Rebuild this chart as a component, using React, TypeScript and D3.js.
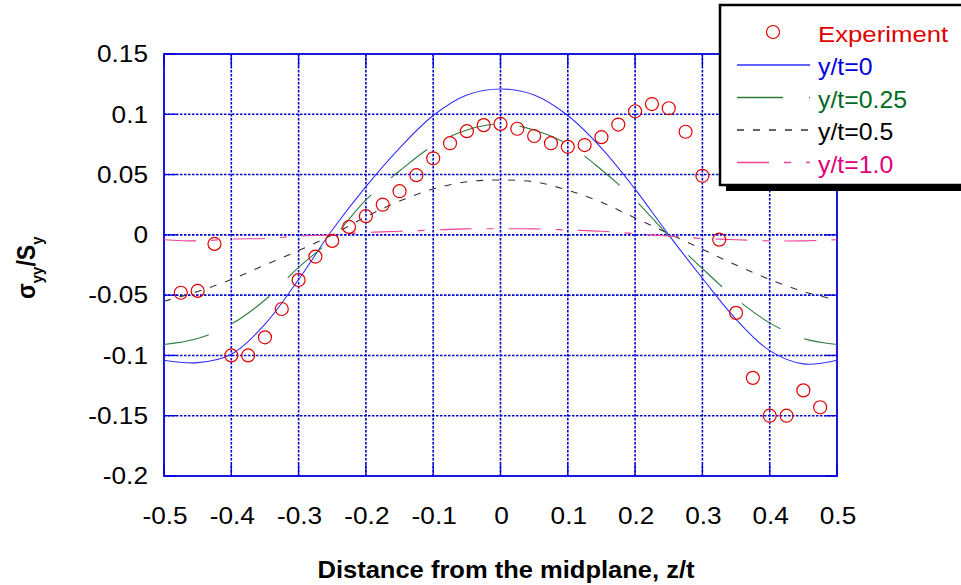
import React from "react";
import * as d3 from "d3";

const zGrid = [-0.5, -0.45, -0.4, -0.35, -0.3, -0.25, -0.2, -0.15, -0.1, -0.05, 0, 0.05, 0.1, 0.15, 0.2, 0.25, 0.3, 0.35, 0.4, 0.45, 0.5];
const yt0 = [-0.104, -0.106, -0.099, -0.074, -0.037, 0.004, 0.04, 0.072, 0.099, 0.116, 0.121, 0.116, 0.099, 0.072, 0.038, 0.0, -0.036, -0.07, -0.096, -0.107, -0.104];
const yt025 = [-0.091, -0.086, -0.074, -0.054, -0.027, -0.003, 0.029, 0.053, 0.074, 0.087, 0.092, 0.087, 0.075, 0.054, 0.029, -0.001, -0.028, -0.053, -0.073, -0.086, -0.091];
const yt05 = [-0.055, -0.047, -0.037, -0.025, -0.013, 0.0, 0.015, 0.028, 0.038, 0.044, 0.0455, 0.044, 0.037, 0.027, 0.014, 0.001, -0.012, -0.025, -0.037, -0.047, -0.054];
const yt10 = [-0.004, -0.005, -0.0035, -0.003, -0.001, 0.0, 0.002, 0.003, 0.004, 0.005, 0.005, 0.005, 0.004, 0.003, 0.001, -0.001, -0.003, -0.004, -0.005, -0.005, -0.004];

const expZ = [-0.475, -0.45, -0.425, -0.4, -0.375, -0.35, -0.325, -0.3, -0.275, -0.25, -0.225, -0.2, -0.175, -0.15, -0.125, -0.1, -0.075, -0.05, -0.025, 0, 0.025, 0.05, 0.075, 0.1, 0.125, 0.15, 0.175, 0.2, 0.225, 0.25, 0.275, 0.3, 0.325, 0.35, 0.375, 0.4, 0.425, 0.45, 0.475];
const expV = [-0.048, -0.0465, -0.0075, -0.1, -0.1, -0.085, -0.0615, -0.0375, -0.018, -0.005, 0.0066, 0.0155, 0.025, 0.0362, 0.0495, 0.0635, 0.076, 0.086, 0.091, 0.092, 0.088, 0.082, 0.076, 0.073, 0.0745, 0.081, 0.0915, 0.1025, 0.1085, 0.105, 0.0855, 0.049, -0.004, -0.0647, -0.1186, -0.15, -0.15, -0.129, -0.143];

const xTicks = [-0.5, -0.4, -0.3, -0.2, -0.1, 0, 0.1, 0.2, 0.3, 0.4, 0.5];
const xTickLabels = ["-0.5", "-0.4", "-0.3", "-0.2", "-0.1", "0", "0.1", "0.2", "0.3", "0.4", "0.5"];
const yTicks = [0.15, 0.1, 0.05, 0, -0.05, -0.1, -0.15, -0.2];
const yTickLabels = ["0.15", "0.1", "0.05", "0", "-0.05", "-0.1", "-0.15", "-0.2"];

const seriesNames = ["y/t=0", "y/t=0.25", "y/t=0.5", "y/t=1.0"];

const FONT = "'Liberation Sans', Arial, sans-serif";

function SText(props: any) {
  const { x, y, anchor = "start", sx = 1.14, size = 23, fill = "#000", weight = "normal", children } = props;
  return (
    <text
      transform={`translate(${x},${y}) scale(${sx},1)`}
      textAnchor={anchor}
      fontSize={size}
      fontFamily={FONT}
      fontWeight={weight}
      fill={fill}
    >
      {children}
    </text>
  );
}

export default function App() {
  const W = 961, H = 585;
  const x = d3.scaleLinear().domain([-0.5, 0.5]).range([164, 837]);
  const y = d3.scaleLinear().domain([-0.2, 0.15]).range([476, 54]);
  const [x0, x1] = x.range();
  const [y0, y1] = [y(0.15), y(-0.2)];

  const line = d3
    .line<[number, number]>()
    .x((d) => x(d[0]))
    .y((d) => y(d[1]))
    .curve(d3.curveCatmullRom.alpha(0.5));

  const series = [
    { name: seriesNames[0], vals: yt0, stroke: "#3030ff", dash: "none", text: "#0000e0" },
    { name: seriesNames[1], vals: yt025, stroke: "#2e7d3e", dash: "46,26", text: "#006a1e" },
    { name: seriesNames[2], vals: yt05, stroke: "#333", dash: "7,9", text: "#000" },
    { name: seriesNames[3], vals: yt10, stroke: "#f0409a", dash: "32,15,7,15", text: "#e0007a" },
  ];

  const gridColor = "#0000cc";

  return (
    <svg width={W} height={H} style={{ position: "absolute", left: 0, top: 0, background: "#fff" }}>
      <rect x={0} y={0} width={W} height={H} fill="#fff" />
      {/* grid */}
      <g>
        {xTicks.slice(1, -1).map((t) => (
          <line key={"gx" + t} x1={x(t)} x2={x(t)} y1={y0} y2={y1} stroke={gridColor} strokeWidth={1.6} strokeDasharray="2.5,1.5" />
        ))}
        {yTicks.slice(1, -1).map((t) => (
          <line key={"gy" + t} x1={x0} x2={x1} y1={y(t)} y2={y(t)} stroke={gridColor} strokeWidth={1.6} strokeDasharray="2.5,1.5" />
        ))}
        {/* inward ticks */}
        {xTicks.map((t) => (
          <g key={"tx" + t}>
            <line x1={x(t)} x2={x(t)} y1={y1} y2={y1 - 12} stroke="#0000dd" strokeWidth={1.3} />
            <line x1={x(t)} x2={x(t)} y1={y0} y2={y0 + 12} stroke="#0000dd" strokeWidth={1.3} />
          </g>
        ))}
        {yTicks.map((t) => (
          <g key={"ty" + t}>
            <line x1={x0} x2={x0 + 12} y1={y(t)} y2={y(t)} stroke="#0000dd" strokeWidth={1.3} />
            <line x1={x1} x2={x1 - 12} y1={y(t)} y2={y(t)} stroke="#0000dd" strokeWidth={1.3} />
          </g>
        ))}
        <rect x={x0} y={y0} width={x1 - x0} height={y1 - y0} fill="none" stroke="#0000dd" strokeWidth={1.8} />
      </g>

      {/* curves */}
      {series.map((s) => (
        <path
          key={s.name}
          d={line(zGrid.map((z, i) => [z, s.vals[i]] as [number, number])) || ""}
          fill="none"
          stroke={s.stroke}
          strokeWidth={1.1}
          strokeDasharray={s.dash}
        />
      ))}

      {/* experiment */}
      {expZ.map((z, i) => (
        <circle key={"e" + i} cx={x(z)} cy={y(expV[i])} r={6.5} fill="none" stroke="#e00000" strokeWidth={1.2} />
      ))}

      {/* tick labels */}
      {yTicks.map((t, i) => (
        <SText key={"yl" + t} x={148} y={y(t) + 8.3} anchor="end">
          {yTickLabels[i]}
        </SText>
      ))}
      {xTicks.map((t, i) => (
        <SText key={"xl" + t} x={x(t) + 1} y={523.5} anchor="middle">
          {xTickLabels[i]}
        </SText>
      ))}

      {/* axis titles */}
      <SText x={506} y={578} anchor="middle" weight="bold" sx={1.11}>
        Distance from the midplane, z/t
      </SText>
      <text
        transform="translate(35,299) scale(1.14,1) rotate(-90)"
        fontFamily={FONT}
        fontWeight="bold"
        fontSize={23}
        fill="#000"
      >
        σ
        <tspan fontSize={15} dy={7}>yy</tspan>
        <tspan fontSize={23} dy={-7}>/S</tspan>
        <tspan fontSize={15} dy={7}>y</tspan>
      </text>

      {/* legend */}
      <g>
        <rect x={726} y={11} width={260} height={180} fill="#000" />
        <rect x={720} y={5} width={260} height={180} fill="#fff" stroke="#000" strokeWidth={2.5} />
        <circle cx={773} cy={32} r={6.5} fill="none" stroke="#e00000" strokeWidth={1.2} />
        <SText x={818} y={42} fill="#e00000" sx={1.12}>Experiment</SText>
        {series.map((s, i) => {
          const ly = 65 + i * 32.5;
          return (
            <g key={"lg" + i}>
              <line x1={737} x2={810} y1={ly} y2={ly} stroke={s.stroke} strokeWidth={1.4} strokeDasharray={s.dash} />
              <SText x={818} y={ly + 10} fill={s.text} sx={1.08}>{s.name}</SText>
            </g>
          );
        })}
      </g>
    </svg>
  );
}
